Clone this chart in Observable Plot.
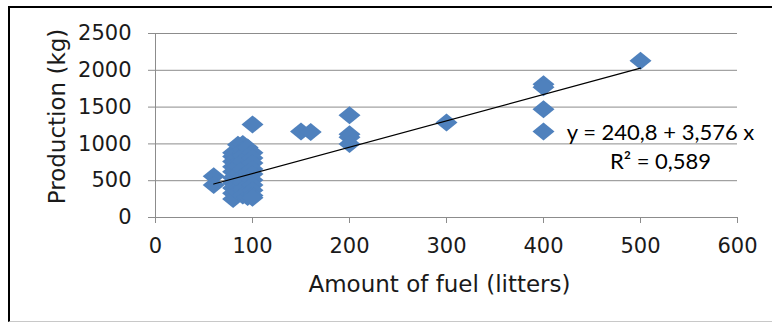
<!DOCTYPE html>
<html><head><meta charset="utf-8">
<script src="https://cdn.jsdelivr.net/npm/d3@7"></script>
<script src="https://cdn.jsdelivr.net/npm/@observablehq/plot@0.6"></script>
<style>
body{margin:0;background:#fff;}
#wrap{position:relative;width:772px;height:322px;overflow:hidden;background:#fff;}
#wrap svg{position:absolute;left:0;top:0;}
#border{position:absolute;left:8px;top:6px;width:800px;height:313px;border-top:2px solid #000;border-left:2px solid #000;border-bottom:1px solid #c8c8c8;pointer-events:none;}
</style></head><body>
<div id="wrap"><div id="border"></div></div>
<script>
// Data
const fuel = [
  500,
  400, 400, 400, 400,
  300,
  200, 200, 200, 200,
  150, 160,
  100,
  60, 60,
  80, 80, 80, 80, 80, 80, 80, 80, 80, 80,
  85, 85, 85,
  90, 90, 90, 90, 90, 90, 90, 90, 90,
  95, 95, 95,
  100, 100, 100, 100, 100, 100, 100, 100, 100, 100
];
const production = [
  2130,
  1810, 1770, 1470, 1170,
  1290,
  1390, 1130, 1090, 1000,
  1170, 1160,
  1265,
  560, 440,
  880, 830, 760, 690, 620, 540, 470, 400, 330, 250,
  990, 700, 350,
  1000, 920, 840, 760, 660, 560, 480, 380, 300,
  950, 610, 280,
  880, 810, 740, 660, 590, 510, 440, 370, 300, 270
];
const xTicks = [0, 100, 200, 300, 400, 500, 600];
const yTicks = [0, 500, 1000, 1500, 2000, 2500];
const xTitle = "Amount of fuel (litters)";
const yTitle = "Production (kg)";
const intercept = 240.8;
const slope = 3.576;
const equationText = "y = 240,8 + 3,576 x\nR² = 0,589";

const points = fuel.map((f, i) => ({fuel: f, production: production[i]}));
const xMin = d3.min(fuel), xMax = d3.max(fuel);
const trend = [xMin, xMax].map(x => ({fuel: x, production: intercept + slope * x}));

const diamond = {
  draw(context, size) {
    const r = Math.sqrt(size / Math.PI);
    const hw = r, hh = r * 18 / 22;
    context.moveTo(0, -hh);
    context.lineTo(hw, 0);
    context.lineTo(0, hh);
    context.lineTo(-hw, 0);
    context.closePath();
  }
};

const gray = "#8c8c8c";
const chart = Plot.plot({
  width: 772,
  height: 322,
  marginLeft: 155,
  marginRight: 35,
  marginTop: 33,
  marginBottom: 105,
  style: {fontFamily: "'DejaVu Sans', Verdana, sans-serif", fontSize: "21px", background: "transparent", overflow: "visible"},
  x: {domain: [0, 600], ticks: xTicks},
  y: {domain: [0, 2500], ticks: yTicks},
  marks: [
    Plot.ruleY(yTicks, {stroke: gray, strokeWidth: 1}),
    Plot.ruleX([0], {stroke: gray, strokeWidth: 1}),
    Plot.axisY({ticks: yTicks, tickFormat: d => String(d), tickSize: 7, tickPadding: 17, stroke: gray, fill: "#1a1a1a", fontSize: 21, label: null}),
    Plot.axisX({ticks: xTicks, tickFormat: d => String(d), tickSize: 6, tickPadding: 15, stroke: gray, fill: "#1a1a1a", fontSize: 21, label: null}),
    Plot.dot(points, {x: "fuel", y: "production", symbol: diamond, r: 11, fill: "#4F81BD", stroke: "none"}),
    Plot.line(trend, {x: "fuel", y: "production", stroke: "#000", strokeWidth: 1.2}),
    Plot.text([equationText], {text: d => d, frameAnchor: "top-right", dx: -77, dy: 86, textAnchor: "middle", lineAnchor: "top", lineHeight: 1.32, fontSize: 22, fontFamily: "Lato, 'Open Sans', sans-serif", fill: "#000"}),
    Plot.text([xTitle], {text: d => d, frameAnchor: "bottom", textAnchor: "middle", dx: -7, dy: 67, lineAnchor: "middle", fontSize: 23, fill: "#1a1a1a"}),
    Plot.text([yTitle], {text: d => d, frameAnchor: "left", textAnchor: "middle", rotate: -90, dx: -98, dy: -9, lineAnchor: "middle", fontSize: 23, fill: "#1a1a1a"})
  ]
});
const wrap = document.getElementById("wrap");
wrap.insertBefore(chart, document.getElementById("border"));
</script>
</body></html>
